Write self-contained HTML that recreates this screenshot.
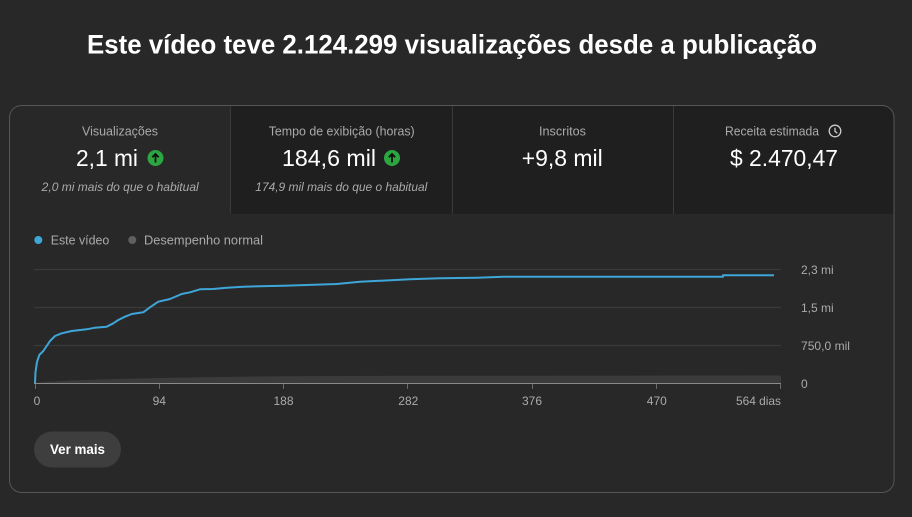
<!DOCTYPE html>
<html><head><meta charset="utf-8"><style>
html,body{margin:0;padding:0;background:#282828;}
svg{display:block;}
text{font-family:"Liberation Sans",sans-serif;}
</style></head><body>
<svg width="912" height="517" viewBox="0 0 912 517" xmlns="http://www.w3.org/2000/svg">
<rect x="0" y="0" width="912" height="517" fill="#282828"/>
<text x="87" y="53.5" font-size="27" font-weight="bold" fill="#ffffff" textLength="730" lengthAdjust="spacingAndGlyphs">Este vídeo teve 2.124.299 visualizações desde a publicação</text>

<!-- card -->
<path d="M230,105.5 H882 a12,12 0 0 1 12,12 V214 H230 Z" fill="#1f1f1f"/>
<line x1="230.5" y1="106" x2="230.5" y2="214" stroke="#3a3a3a"/>
<line x1="452.5" y1="106" x2="452.5" y2="214" stroke="#3a3a3a"/>
<line x1="673.5" y1="106" x2="673.5" y2="214" stroke="#3a3a3a"/>
<rect x="9.5" y="105.5" width="884.5" height="387" rx="12" ry="12" fill="none" stroke="#565656" stroke-width="1"/>

<!-- tile texts -->
<text x="82" y="135.5" font-size="12.5" fill="#aaaaaa" textLength="76" lengthAdjust="spacingAndGlyphs">Visualizações</text>
<text x="76" y="166" font-size="23" fill="#ffffff" textLength="62" lengthAdjust="spacingAndGlyphs">2,1 mi</text>
<circle cx="155.5" cy="158" r="8" fill="#2ba640"/>
<path d="M155.5,162.5 V154.5 M152.3,157.3 L155.5,154 L158.7,157.3" stroke="#0f0f0f" stroke-width="1.8" fill="none"/>
<text x="41.7" y="191" font-size="12" font-style="italic" fill="#aaaaaa" textLength="157" lengthAdjust="spacingAndGlyphs">2,0 mi mais do que o habitual</text>

<text x="268.7" y="135.5" font-size="12.5" fill="#aaaaaa" textLength="146" lengthAdjust="spacingAndGlyphs">Tempo de exibição (horas)</text>
<text x="282" y="166" font-size="23" fill="#ffffff" textLength="94" lengthAdjust="spacingAndGlyphs">184,6 mil</text>
<circle cx="392" cy="158" r="8" fill="#2ba640"/>
<path d="M392,162.5 V154.5 M388.8,157.3 L392,154 L395.2,157.3" stroke="#0f0f0f" stroke-width="1.8" fill="none"/>
<text x="255.3" y="191" font-size="12" font-style="italic" fill="#aaaaaa" textLength="172" lengthAdjust="spacingAndGlyphs">174,9 mil mais do que o habitual</text>

<text x="539" y="135.5" font-size="12.5" fill="#aaaaaa" textLength="47" lengthAdjust="spacingAndGlyphs">Inscritos</text>
<text x="521.7" y="166" font-size="23" fill="#ffffff" textLength="81" lengthAdjust="spacingAndGlyphs">+9,8 mil</text>

<text x="725" y="135.5" font-size="12.5" fill="#aaaaaa" textLength="94" lengthAdjust="spacingAndGlyphs">Receita estimada</text>
<circle cx="835" cy="131" r="5.8" fill="none" stroke="#cccccc" stroke-width="1.3"/>
<path d="M835,127.8 V131.3 L837.3,133.2" stroke="#cccccc" stroke-width="1.3" fill="none"/>
<text x="730" y="166" font-size="23" fill="#ffffff" textLength="108" lengthAdjust="spacingAndGlyphs">$ 2.470,47</text>

<!-- legend -->
<circle cx="38.3" cy="240" r="4" fill="#3ea6d8"/>
<text x="50.7" y="244.3" font-size="12.5" fill="#aaaaaa" textLength="58.6" lengthAdjust="spacingAndGlyphs">Este vídeo</text>
<circle cx="132.3" cy="240" r="4" fill="#606060"/>
<text x="144" y="244.3" font-size="12.5" fill="#aaaaaa" textLength="119" lengthAdjust="spacingAndGlyphs">Desempenho normal</text>

<!-- grid -->
<line x1="34" y1="269.5" x2="781" y2="269.5" stroke="#3a3a3a" stroke-width="1.2"/>
<line x1="34" y1="307.5" x2="781" y2="307.5" stroke="#3a3a3a" stroke-width="1.2"/>
<line x1="34" y1="345.5" x2="781" y2="345.5" stroke="#3a3a3a" stroke-width="1.2"/>

<!-- normal performance area -->
<path d="M35,383 L45,382 L70,380.5 L110,379.2 L160,378 L220,377 L280,376.2 L400,375.8 L781,375.5 L781,383 Z" fill="#3b3b3b"/>

<!-- baseline & ticks -->
<line x1="34" y1="383.5" x2="781" y2="383.5" stroke="#8a8a8a" stroke-width="1"/>
<g stroke="#6a6a6a" stroke-width="1">
<line x1="35.5" y1="384" x2="35.5" y2="389"/>
<line x1="159.5" y1="384" x2="159.5" y2="389"/>
<line x1="283.5" y1="384" x2="283.5" y2="389"/>
<line x1="407.5" y1="384" x2="407.5" y2="389"/>
<line x1="532.5" y1="384" x2="532.5" y2="389"/>
<line x1="656.5" y1="384" x2="656.5" y2="389"/>
<line x1="780.5" y1="384" x2="780.5" y2="389"/>
</g>

<!-- series -->
<polyline fill="none" stroke="#3ea6d8" stroke-width="2" stroke-linejoin="round" points="35,383 35.5,372 37,362 39.3,355 43.3,351 46,347 50,341 55,336 61.7,333.3 71.7,331 86.7,329.3 95,327.7 106.7,326.7 113.3,323.3 118.3,320 125,316.7 131.7,314 143.3,312.3 150,307.3 158.3,301.7 170,299 181.7,294 190,292.3 200,289.3 213.3,289 226.7,287.7 243.3,286.7 283.3,285.7 306.7,285 336.7,284 360,281.7 410,279.3 440,278.3 476.7,277.7 503.3,276.7 723,276.7 723,275.3 774,275.3"/>

<!-- axis labels -->
<g font-size="12" fill="#aaaaaa">
<text x="801" y="274">2,3 mi</text>
<text x="801" y="312">1,5 mi</text>
<text x="801" y="350" textLength="49" lengthAdjust="spacingAndGlyphs">750,0 mil</text>
<text x="801" y="388">0</text>
<text x="37" y="405" text-anchor="middle">0</text>
<text x="159.3" y="405" text-anchor="middle">94</text>
<text x="283.5" y="405" text-anchor="middle">188</text>
<text x="408.3" y="405" text-anchor="middle">282</text>
<text x="532" y="405" text-anchor="middle">376</text>
<text x="656.8" y="405" text-anchor="middle">470</text>
<text x="781" y="405" text-anchor="end" textLength="45" lengthAdjust="spacingAndGlyphs">564 dias</text>
</g>

<!-- button -->
<rect x="34" y="431.5" width="87" height="36" rx="18" ry="18" fill="#3e3e3e"/>
<text x="50" y="454" font-size="14" font-weight="bold" fill="#ffffff" textLength="55" lengthAdjust="spacingAndGlyphs">Ver mais</text>
</svg>
</body></html>
